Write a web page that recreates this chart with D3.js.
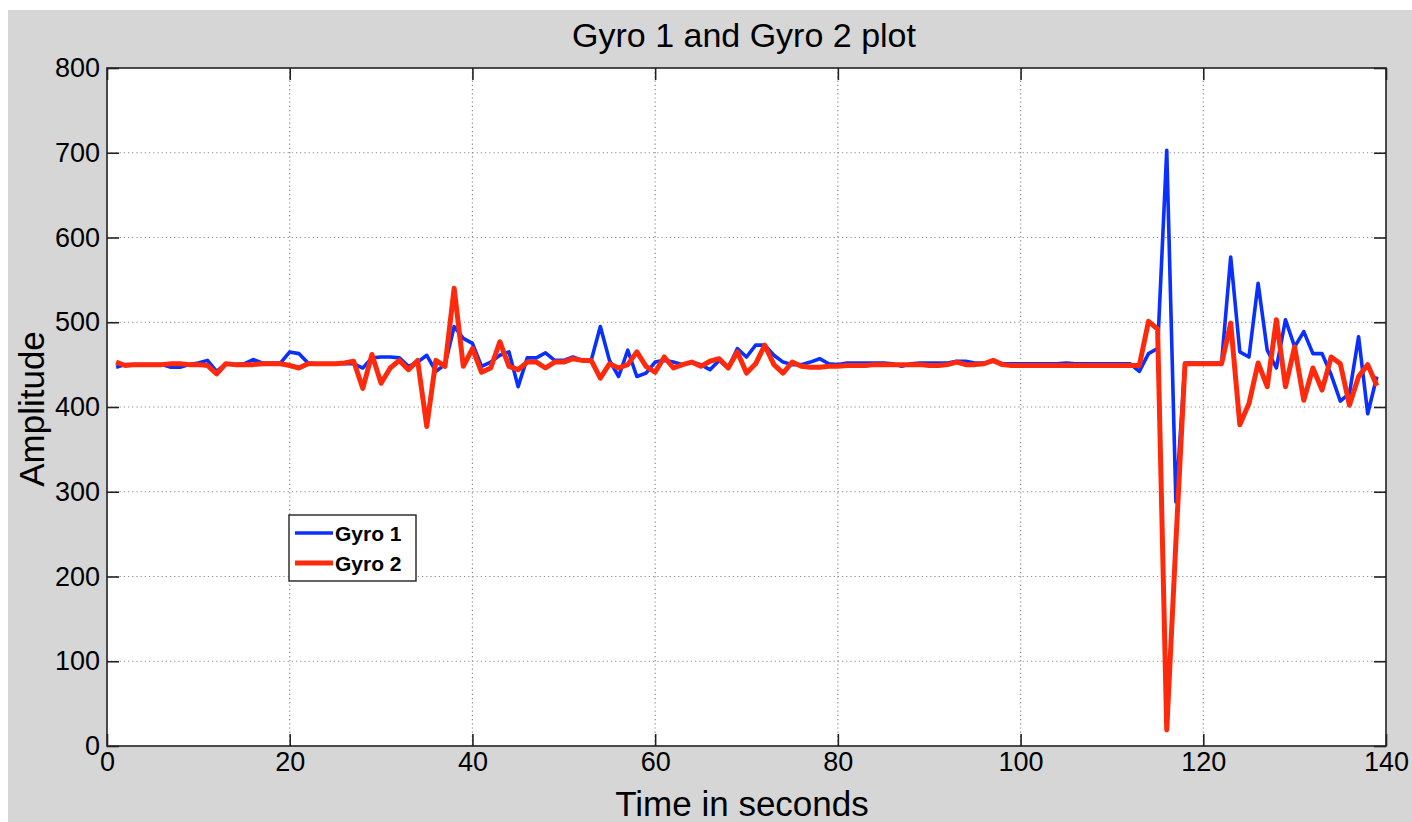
<!DOCTYPE html>
<html>
<head>
<meta charset="utf-8">
<script src="https://cdn.jsdelivr.net/npm/d3@7"></script>
<style>
  html, body { margin: 0; padding: 0; background: #ffffff; }
  svg { display: block; }
  text { font-family: "Liberation Sans", Arial, Helvetica, sans-serif; }
</style>
</head>
<body>
<svg id="chart" width="1412" height="822"></svg>
<script>
// Time samples (seconds)
const timeSec = [
  1,2,3,4,5,6,7,8,9,10,11,12,13,14,15,16,17,18,19,20,
  21,22,23,24,25,26,27,28,29,30,31,32,33,34,35,36,37,38,39,40,
  41,42,43,44,45,46,47,48,49,50,51,52,53,54,55,56,57,58,59,60,
  61,62,63,64,65,66,67,68,69,70,71,72,73,74,75,76,77,78,79,80,
  81,82,83,84,85,86,87,88,89,90,91,92,93,94,95,96,97,98,99,100,
  101,102,103,104,105,106,107,108,109,110,111,112,113,114,115,116,117,118,119,120,
  121,122,123,124,125,126,127,128,129,130,131,132,133,134,135,136,137,138,139
];

// Gyro 1 amplitude
const gyro1 = [
  447,450,450,450,450,450,447,447,450,452,455,442,451,450,451,456,452,452,452,465,
  463,452,451,451,451,451,451,446,458,459,459,458,448,453,461,442,450,495,481,475,
  448,453,461,465,424,458,458,464,455,455,459,455,455,495,455,436,467,436,440,453,
  455,453,450,453,450,444,455,446,469,459,473,473,461,453,450,450,453,457,451,450,
  452,452,452,452,452,451,448,451,452,452,452,452,454,454,452,452,454,451,451,451,
  451,451,451,451,452,451,451,451,451,451,451,451,442,463,469,703,288,452,452,452,
  452,452,577,465,459,546,467,446,503,471,489,463,463,438,407,416,483,392,436
];

// Gyro 2 amplitude
const gyro2 = [
  453,449,450,450,450,450,451,451,450,450,449,439,451,450,450,450,451,451,451,449,
  446,451,451,451,451,452,454,422,462,428,446,455,444,455,377,455,448,540,448,469,
  441,446,477,448,444,453,453,446,453,453,457,455,455,434,451,446,450,465,448,441,
  459,446,450,453,448,454,457,446,465,440,451,473,450,440,453,448,447,447,448,448,
  449,449,449,450,450,450,450,450,450,449,449,450,453,450,450,451,455,450,449,449,
  449,449,449,449,449,449,449,449,449,449,449,449,449,501,492,19,240,451,451,451,
  451,451,499,379,404,452,424,503,424,471,408,446,420,459,451,402,436,450,425
];

const xTicks = [0, 20, 40, 60, 80, 100, 120, 140];
const yTicks = [0, 100, 200, 300, 400, 500, 600, 700, 800];

const chartTitle = "Gyro 1 and Gyro 2 plot";
const xLabel = "Time in seconds";
const yLabel = "Amplitude";
const seriesNames = ["Gyro 1", "Gyro 2"];
const seriesColors = ["#0a30ff", "#ff2a0c"];
const seriesWidths = [3.6, 5];

const svg = d3.select("#chart");
const W = 1412, H = 822;

// figure background
svg.append("rect").attr("x", 0).attr("y", 0).attr("width", W).attr("height", H).attr("fill", "#ffffff");
svg.append("rect").attr("x", 8).attr("y", 10).attr("width", W - 8).attr("height", H - 10).attr("fill", "#d6d6d6");

const plotL = 107, plotR = 1386, plotT = 68, plotB = 746;
const x = d3.scaleLinear().domain([0, 140]).range([plotL, plotR]);
const y = d3.scaleLinear().domain([0, 800]).range([plotB, plotT]);

// plot area
svg.append("rect")
  .attr("x", plotL).attr("y", plotT)
  .attr("width", plotR - plotL).attr("height", plotB - plotT)
  .attr("fill", "#ffffff");

// dotted grid
const grid = svg.append("g").attr("stroke", "#8a8a8a").attr("stroke-width", 1.2).attr("stroke-dasharray", "1.2,3");
grid.selectAll("line.gx").data(xTicks.slice(1, -1)).enter().append("line")
  .attr("x1", d => x(d)).attr("x2", d => x(d)).attr("y1", plotT).attr("y2", plotB);
grid.selectAll("line.gy").data(yTicks.slice(1, -1)).enter().append("line")
  .attr("x1", plotL).attr("x2", plotR).attr("y1", d => y(d)).attr("y2", d => y(d));

// series lines
const pts1 = timeSec.map((t, i) => [t, gyro1[i]]);
const pts2 = timeSec.map((t, i) => [t, gyro2[i]]);
const line = d3.line().x(d => x(d[0])).y(d => y(d[1]));

[pts1, pts2].forEach((pts, i) => {
  svg.append("path").datum(pts).attr("d", line)
    .attr("fill", "none").attr("stroke", seriesColors[i]).attr("stroke-width", seriesWidths[i])
    .attr("stroke-linejoin", "round");
});

// axes with inward ticks (bottom/left labelled, top/right mirrored)
const tickLen = 12;
const axB = d3.axisBottom(x).tickValues(xTicks).tickSizeInner(-tickLen).tickSizeOuter(0).tickPadding(6);
const axT = d3.axisTop(x).tickValues(xTicks).tickSizeInner(-tickLen).tickSizeOuter(0).tickFormat("");
const axL = d3.axisLeft(y).tickValues(yTicks).tickSizeInner(-tickLen).tickSizeOuter(0).tickPadding(7);
const axR = d3.axisRight(y).tickValues(yTicks).tickSizeInner(-tickLen).tickSizeOuter(0).tickFormat("");

function styleAxis(g) {
  g.select(".domain").remove();
  g.selectAll(".tick line").attr("stroke", "#222").attr("stroke-width", 1.6);
  g.selectAll(".tick text").attr("fill", "#000").attr("font-size", 27)
    .style("font-family", "'Liberation Sans', Arial, sans-serif");
}
svg.append("g").attr("transform", `translate(0,${plotB})`).call(axB).call(styleAxis);
svg.append("g").attr("transform", `translate(0,${plotT})`).call(axT).call(styleAxis);
svg.append("g").attr("transform", `translate(${plotL},0)`).call(axL).call(styleAxis);
svg.append("g").attr("transform", `translate(${plotR},0)`).call(axR).call(styleAxis);

// plot frame
svg.append("rect")
  .attr("x", plotL).attr("y", plotT)
  .attr("width", plotR - plotL).attr("height", plotB - plotT)
  .attr("fill", "none").attr("stroke", "#222").attr("stroke-width", 1.6);

// title and axis labels
svg.append("text").attr("x", 744).attr("y", 47)
  .attr("text-anchor", "middle").attr("font-size", 34).attr("fill", "#000").text(chartTitle);
svg.append("text").attr("x", 742).attr("y", 816)
  .attr("text-anchor", "middle").attr("font-size", 35).attr("fill", "#000").text(xLabel);
svg.append("text").attr("transform", `translate(44,409) rotate(-90)`)
  .attr("text-anchor", "middle").attr("font-size", 35).attr("fill", "#000").text(yLabel);

// legend
const lg = svg.append("g").attr("transform", "translate(289,515)");
lg.append("rect").attr("width", 127).attr("height", 66)
  .attr("fill", "#ffffff").attr("stroke", "#222").attr("stroke-width", 1.4);
seriesNames.forEach((name, i) => {
  const yy = 18 + i * 30;
  lg.append("line").attr("x1", 6).attr("x2", 44).attr("y1", yy).attr("y2", yy)
    .attr("stroke", seriesColors[i]).attr("stroke-width", seriesWidths[i]);
  lg.append("text").attr("x", 46).attr("y", yy + 7.5)
    .attr("font-size", 21).attr("font-weight", "bold").attr("fill", "#000").text(name);
});
</script>
</body>
</html>
